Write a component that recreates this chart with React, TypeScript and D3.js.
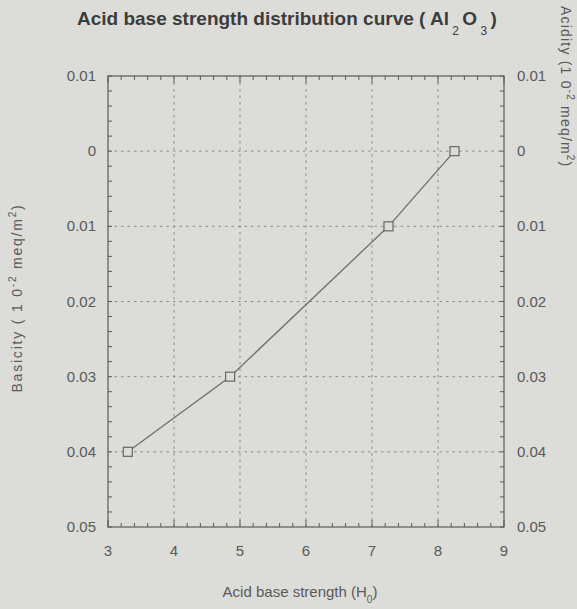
import React from "react";
import * as d3 from "d3";

const xTicks = [3, 4, 5, 6, 7, 8, 9];
const yTicks = [-0.01, 0, 0.01, 0.02, 0.03, 0.04, 0.05];
const yTickLabels = ["0.01", "0", "0.01", "0.02", "0.03", "0.04", "0.05"];
const strength = [3.3, 4.85, 7.25, 8.25];
const amount = [0.04, 0.03, 0.01, 0.0];

const W = 577, H = 609;
const m = { l: 108, r: 504, t: 76, b: 527 };
const font = "'Liberation Sans Narrow', 'Liberation Sans', Arial, sans-serif";
const ink = "#5a5a5a";

export default function App() {
  const x = d3.scaleLinear().domain([3, 9]).range([m.l, m.r]);
  const y = d3.scaleLinear().domain([-0.01, 0.05]).range([m.t, m.b]);
  const pts = strength.map((s, i) => [s, amount[i]] as [number, number]);
  const line = d3.line<[number, number]>().x(d => x(d[0])).y(d => y(d[1])).curve(d3.curveLinear);
  const xMinor = d3.range(3, 9.001, 0.2).map(v => +v.toFixed(2));
  const yMinor = d3.range(-0.01, 0.05001, 0.002).map(v => +v.toFixed(4));
  return (
    <svg width={W} height={H} style={{ position: "absolute", left: 0, top: 0, background: "#dcdcd8" }}>
      <rect x={0} y={0} width={W} height={H} fill="#dcdcd8" />
      {/* grid */}
      {xTicks.slice(1, -1).map(v => (
        <line key={"gx" + v} x1={x(v)} x2={x(v)} y1={m.t} y2={m.b} stroke="#8a8a8a" strokeWidth={1} strokeDasharray="2.5,4" />
      ))}
      {yTicks.slice(1, -1).map(v => (
        <line key={"gy" + v} x1={m.l} x2={m.r} y1={y(v)} y2={y(v)} stroke="#8a8a8a" strokeWidth={1} strokeDasharray="2.5,4" />
      ))}
      {/* minor ticks */}
      {xMinor.map(v => (
        <g key={"xm" + v}>
          <line x1={x(v)} x2={x(v)} y1={m.b} y2={m.b - (xTicks.includes(v) ? 7 : 4)} stroke={ink} />
          <line x1={x(v)} x2={x(v)} y1={m.t} y2={m.t + (xTicks.includes(v) ? 7 : 4)} stroke={ink} />
        </g>
      ))}
      {yMinor.map(v => (
        <g key={"ym" + v}>
          <line x1={m.l} x2={m.l + 4} y1={y(v)} y2={y(v)} stroke={ink} />
          <line x1={m.r} x2={m.r - 4} y1={y(v)} y2={y(v)} stroke={ink} />
        </g>
      ))}
      {/* frame */}
      <rect x={m.l} y={m.t} width={m.r - m.l} height={m.b - m.t} fill="none" stroke={ink} strokeWidth={1.2} />
      {/* curve */}
      <path d={line(pts) || ""} fill="none" stroke="#6e6e6e" strokeWidth={1.3} />
      {pts.map((p, i) => (
        <rect key={"p" + i} x={x(p[0]) - 4.5} y={y(p[1]) - 4.5} width={9} height={9} fill="#dcdcd8" stroke="#666" strokeWidth={1.2} />
      ))}
      {/* tick labels */}
      {xTicks.map(v => (
        <text key={"xl" + v} x={x(v)} y={556} textAnchor="middle" fontFamily={font} fontSize={15} fill={ink}>{v}</text>
      ))}
      {yTicks.map((v, i) => (
        <g key={"yl" + v}>
          <text x={96} y={y(v) + 5} textAnchor="end" fontFamily={font} fontSize={15} fill={ink}>{yTickLabels[i]}</text>
          <text x={517} y={y(v) + 5} textAnchor="start" fontFamily={font} fontSize={15} fill={ink}>{yTickLabels[i]}</text>
        </g>
      ))}
      {/* title */}
      <text x={77} y={25} fontFamily={font} fontWeight="bold" fontSize={19} fill="#3c3c3c">
        Acid base strength distribution curve ( Al
        <tspan dy={10} fontSize={12} fontWeight="normal"> 2 </tspan>
        <tspan dy={-10}>O</tspan>
        <tspan dy={10} fontSize={12} fontWeight="normal"> 3 </tspan>
        <tspan dy={-10}> )</tspan>
      </text>
      {/* x label */}
      <text x={300} y={597} textAnchor="middle" fontFamily={font} fontSize={15} fill={ink}>
        Acid base strength (H<tspan dy={6} fontSize={10}>0</tspan><tspan dy={-6}>)</tspan>
      </text>
      {/* left label */}
      <text transform="translate(22,298) rotate(-90)" textAnchor="middle" fontFamily={font} fontSize={14} fill={ink} letterSpacing={1.8}>
        Basicity ( 1 0<tspan dy={-6} fontSize={10}>-2</tspan><tspan dy={6}>  meq/m</tspan><tspan dy={-6} fontSize={10}>2</tspan><tspan dy={6}>)</tspan>
      </text>
      {/* right label */}
      <text transform="translate(561,6) rotate(90)" textAnchor="start" fontFamily={font} fontSize={14} fill={ink} letterSpacing={1.2}>
        Acidity (1 0<tspan dy={-6} fontSize={10}>-2</tspan><tspan dy={6}>  meq/m</tspan><tspan dy={-6} fontSize={10}>2</tspan><tspan dy={6}>)</tspan>
      </text>
    </svg>
  );
}
